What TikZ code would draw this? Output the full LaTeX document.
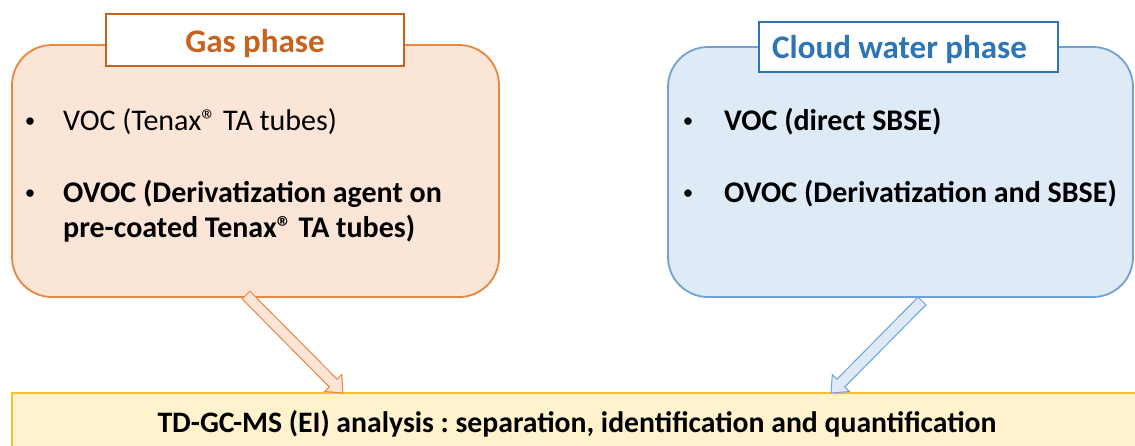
\documentclass[tikz,border=0pt]{standalone}
\usepackage{fontspec}
\setmainfont{Carlito}
\usetikzlibrary{calc}
\frenchspacing
\definecolor{orBorder}{HTML}{E8853F}
\definecolor{orFill}{HTML}{FBE5D6}
\definecolor{orDark}{HTML}{C8621E}
\definecolor{blBorder}{HTML}{6FA2D3}
\definecolor{blFill}{HTML}{DEEBF7}
\definecolor{blDark}{HTML}{2E75B6}
\definecolor{yeBorder}{HTML}{F5C12E}
\definecolor{yeFill}{HTML}{FFF2CC}
\newcommand\myblockarrow[3]{%
  \path ($(#3)!14pt!(#2)$) coordinate (#2c);
  \draw[#1] ($(#2)!5.5pt!90:(#3)$) -- ($(#2c)!5.5pt!-90:(#2)$) -- ($(#2c)!12pt!-90:(#2)$)
    -- (#3) -- ($(#2c)!12pt!90:(#2)$) -- ($(#2c)!5.5pt!90:(#2)$) -- ($(#2)!5.5pt!-90:(#3)$) -- cycle;
}
\begin{document}
\begin{tikzpicture}[x=1pt,y=-1pt,
  panel/.style={rectangle, line width=1.8pt, rounded corners=40pt, inner sep=0pt},
  titlebox/.style={rectangle, draw, fill=white, line width=2pt, inner sep=0pt},
  titletext/.style={inner sep=0pt, font=\bfseries\fontsize{33}{39}\selectfont},
  btext/.style={anchor=base west, inner sep=0pt, font=\fontsize{30}{36}\selectfont},
  bbtext/.style={anchor=base west, inner sep=0pt, font=\bfseries\fontsize{30}{36}\selectfont},
  bdot/.style={anchor=base, inner sep=0pt, font=\fontsize{21}{24}\selectfont},
  orarrow/.style={draw=orBorder, fill=orFill, line width=1pt, line join=miter},
  blarrow/.style={draw=blBorder, fill=blFill, line width=1pt, line join=miter}]
\useasboundingbox (0,0) rectangle (1135,445);
\clip (0,0) rectangle (1135,445);
% panels
\node[panel, draw=orBorder, fill=orFill, minimum width=487pt, minimum height=252pt] (gas) at (255.5,171) {};
\node[panel, draw=blBorder, fill=blFill, minimum width=465pt, minimum height=250pt] (cloud) at (900.5,172) {};
\node[rectangle, draw=yeBorder, fill=yeFill, line width=2pt, minimum width=1148pt, minimum height=77pt] (td) at (586,431.5) {};
% titles
\node[titlebox, draw=orDark, minimum width=298pt, minimum height=52pt] (gastitle) at (255,40) {};
\node[titletext, anchor=base, text=orDark] (gaslabel) at (255,52) {Gas phase};
\node[titlebox, draw=blDark, minimum width=299pt, minimum height=50pt] (cloudtitle) at (908.5,47) {};
\node[titletext, anchor=base west, text=blDark] (cloudlabel) at (772,58) {Cloud water phase};
% gas bullets
\node[bdot] (gd1) at (30,127) {•};
\node[btext] (gb1) at (63,130) {VOC (Tenax® TA tubes)};
\node[bdot] (gd2) at (30,199) {•};
\node[bbtext] (gb2) at (63,202) {OVOC (Derivatization agent on};
\node[bbtext] (gb3) at (63,237) {pre-coated Tenax® TA tubes)};
% cloud bullets
\node[bdot] (cd1) at (688,127) {•};
\node[bbtext] (cb1) at (724,130) {VOC (direct SBSE)};
\node[bdot] (cd2) at (688,199) {•};
\node[bbtext] (cb2) at (724,202) {OVOC (Derivatization and SBSE)};
% bottom text
\node[anchor=base, inner sep=0pt, font=\bfseries\fontsize{29.7}{34}\selectfont] (tdtext) at (577,432) {TD-GC-MS (EI) analysis : separation, identification and quantification};
% arrows
\coordinate (gt) at (246,295);
\coordinate (gh) at (343,393);
\coordinate (bt) at (922,301);
\coordinate (bh) at (831,393);
\myblockarrow{orarrow}{gt}{gh}
\myblockarrow{blarrow}{bt}{bh}
\end{tikzpicture}
\end{document}
